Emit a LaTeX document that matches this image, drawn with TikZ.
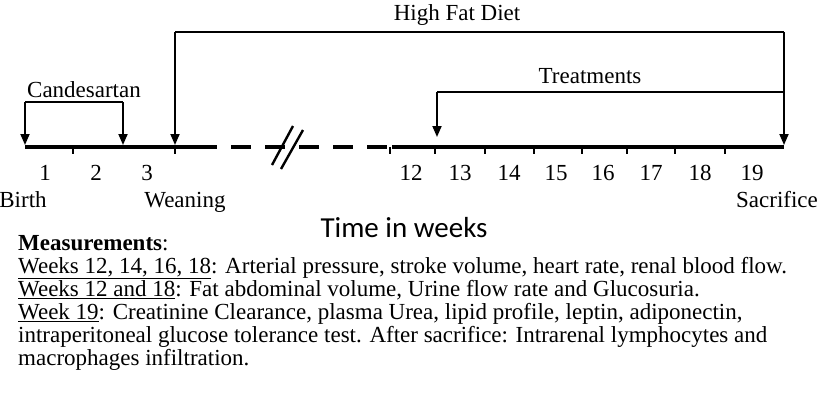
\documentclass[tikz,border=0pt]{standalone}
\usepackage{fontspec}
\setmainfont{Liberation Serif}
\newfontfamily\calibrifont{Carlito}
\usetikzlibrary{arrows.meta, positioning, calc}

\tikzset{
  timeline/.style={line width=4pt},
  gapline/.style={line width=4pt, dash pattern=on 20pt off 14pt},
  bracket/.style={line width=1.8pt},
  tip/.style={line width=1.8pt, -{Triangle[width=9pt,length=11pt]}},
  tick/.style={line width=1.6pt},
  wklabel/.style={anchor=base, inner sep=0pt, font=\fontsize{23}{23}\selectfont},
  measline/.style={anchor=base west, inner sep=0pt, font=\fontsize{23}{23}\selectfont}
}

\begin{document}
\begin{tikzpicture}[x=1pt,y=-1pt]
  \useasboundingbox (0,0) rectangle (819,408);
  \def\ly{147}

  % points on the time axis
  \coordinate (birth) at (25,\ly);
  \coordinate (cand) at (123,\ly);
  \coordinate (wean) at (175,\ly);
  \coordinate (gapA) at (197,\ly);
  \coordinate (gapB) at (392,\ly);
  \coordinate (sacr) at (784,\ly);

  % axis
  \draw[timeline] (birth) -- (gapA);
  \draw[gapline] (gapA) -- (gapB);
  \draw[timeline] (gapB) -- (sacr);
  \draw[line width=2.4pt] (272,165) -- (293,126) (281,169) -- (303,130);

  \foreach \x in {73,175,390,435,485,534,582,627,675,725}
    \draw[tick] (\x,\ly) -- ++(0,7);

  % week numbers
  \foreach \n/\x in {1/45,2/96,3/147,12/411,13/460,14/509,15/556,16/603,17/651,18/700,19/752}
    \node[wklabel] (wk\n) at (\x,180) {\n};

  \node[wklabel] (lblBirth) at (23,207) {Birth};
  \node[wklabel] (lblWean) at (185,207) {Weaning};
  \node[wklabel] (lblSacr) at (777,207) {Sacrifice};
  \node[anchor=base, inner sep=0pt, font=\calibrifont\fontsize{29}{30}\selectfont] (lblTime) at (404,237) {Time in weeks};

  % Candesartan
  \coordinate (candL) at (25,102);
  \coordinate (candR) at (123,102);
  \draw[bracket] (candL) -- (candR);
  \draw[tip] (candL) -- ($(birth)+(0,-2)$);
  \draw[tip] (candR) -- ($(cand)+(0,-2)$);
  \node[wklabel] (lblCand) at (84,97) {Candesartan};

  % High fat diet
  \coordinate (hfdL) at (175,32);
  \coordinate (hfdR) at (784,32);
  \draw[bracket] (hfdL) -- (hfdR);
  \draw[tip] (hfdL) -- ($(wean)+(0,-2)$);
  \draw[tip] (hfdR) -- ($(sacr)+(0,-2)$);
  \node[wklabel] (lblHfd) at (457,20) {High Fat Diet};

  % Treatments
  \coordinate (trL) at (437,92);
  \coordinate (trR) at (784,92);
  \coordinate (trTip) at (437,137);
  \draw[bracket] (trR) -- (trL);
  \draw[tip] (trL) -- (trTip);
  \node[wklabel] (lblTreat) at (590,83) {Treatments};

  % measurements
  \node[measline] (m1) at (18,250) {\textbf{Measurements}:};
  \node[measline] (m2) at (18,273) {\underline{Weeks 12, 14, 16, 18}: Arterial pressure, stroke volume, heart rate, renal blood flow.};
  \node[measline] (m3) at (18,296) {\underline{Weeks 12 and 18}: Fat abdominal volume, Urine flow rate and Glucosuria.};
  \node[measline] (m4) at (18,319) {\underline{Week 19}: Creatinine Clearance, plasma Urea, lipid profile, leptin, adiponectin,};
  \node[measline] (m5) at (18,342) {intraperitoneal glucose tolerance test. After sacrifice: Intrarenal lymphocytes and};
  \node[measline] (m6) at (18,365) {macrophages infiltration.};
\end{tikzpicture}
\end{document}
